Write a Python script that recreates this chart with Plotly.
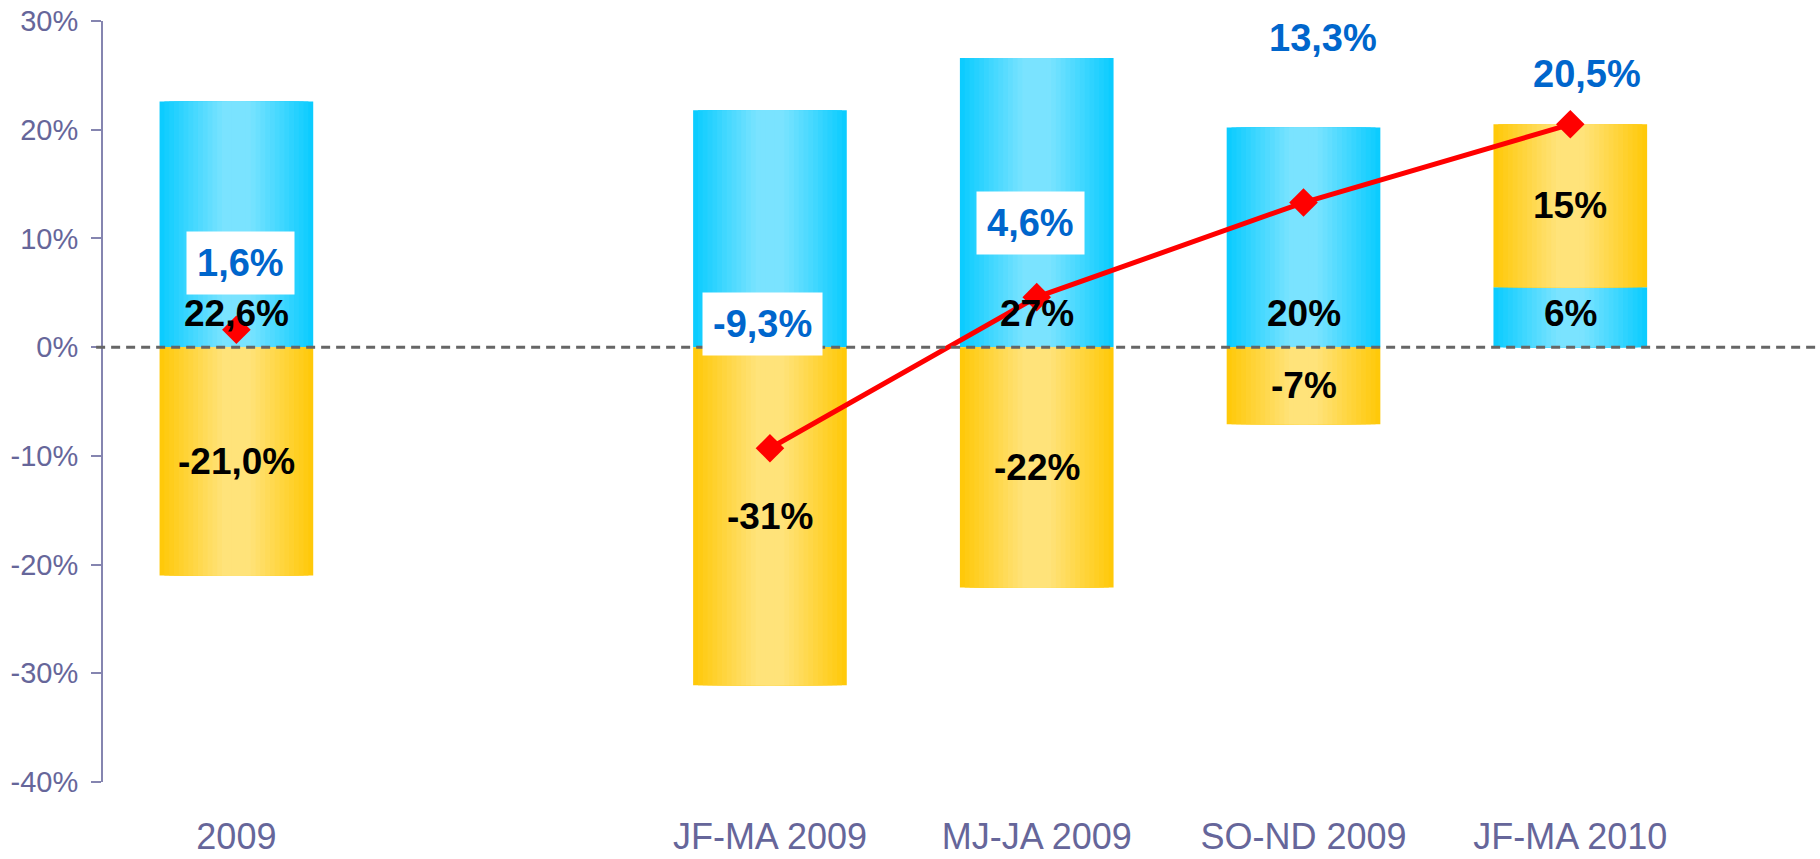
import plotly.graph_objects as go

# ---------------- data ----------------
categories = ["2009", " ", "JF-MA 2009", "MJ-JA 2009", "SO-ND 2009", "JF-MA 2010"]
blue_values = [22.6, None, 21.8, 26.6, 20.2, 5.5]
gold_values = [-21.0, None, -31.1, -22.1, -7.1, 15.0]
blue_labels = ["22,6%", "", "", "27%", "20%", "6%"]
gold_labels = ["-21,0%", "", "-31%", "-22%", "-7%", "15%"]
line_values = [1.6, None, -9.3, 4.6, 13.3, 20.5]
line_labels = ["1,6%", "", "-9,3%", "4,6%", "13,3%", "20,5%"]
y_ticks = [-40, -30, -20, -10, 0, 10, 20, 30]
y_tick_text = ["-40%", "-30%", "-20%", "-10%", "0%", "10%", "20%", "30%"]

# ---------------- style ----------------
FONT = "Arial, Liberation Sans, sans-serif"
AXIS_COL = "#8585B0"
TICK_COL = "#66669A"
BLUE_EDGE, BLUE_MID = (12, 204, 255), (122, 227, 255)
GOLD_EDGE, GOLD_MID = (255, 201, 10), (255, 227, 122)
BAR_W = 0.576
N_LAYERS = 16
line_label_xshift = [4, 0, -7, -6, 19, 17]
line_label_yshift = [67, 0, 124, 74, 165, 50]
line_label_box = [True, False, True, True, False, False]


def mix(a, b, t):
    return "rgb(%d,%d,%d)" % tuple(round(a[i] + (b[i] - a[i]) * t) for i in range(3))


# gold bars stack on top of blue when positive, else hang from zero
gold_base = [(b if (g is not None and g > 0) else 0) if b is not None else None
             for b, g in zip(blue_values, gold_values)]
blue_base = [0 if b is not None else None for b in blue_values]

fig = go.Figure()

for vals, bases, edge, mid in [(blue_values, blue_base, BLUE_EDGE, BLUE_MID),
                               (gold_values, gold_base, GOLD_EDGE, GOLD_MID)]:
    for i in range(N_LAYERS):
        t = i / N_LAYERS
        frac = 1 - t
        g = min(1.0, t / 0.8)
        fig.add_trace(go.Bar(
            x=categories, y=vals, base=bases,
            width=BAR_W * frac,
            marker=dict(color=mix(edge, mid, g), line=dict(width=0)),
            showlegend=False, hoverinfo="skip",
        ))

fig.add_trace(go.Scatter(
    x=categories, y=line_values, mode="lines+markers",
    line=dict(color="#FF0000", width=5),
    marker=dict(symbol="diamond", size=22, color="#FF0000"),
    connectgaps=False, showlegend=False,
))

annotations = []
for i, (b, lab) in enumerate(zip(blue_values, blue_labels)):
    if b is None or not lab:
        continue
    annotations.append(dict(x=i, y=0, text=lab, showarrow=False, yanchor="middle",
                            yshift=34, font=dict(family=FONT, size=37, color="black",
                                                 weight="bold")))
for i, (g, base, lab) in enumerate(zip(gold_values, gold_base, gold_labels)):
    if g is None or not lab:
        continue
    annotations.append(dict(x=i, y=base + g / 2, text=lab, showarrow=False,
                            yanchor="middle",
                            font=dict(family=FONT, size=37, color="black", weight="bold")))
for i, (v, lab, xs, ys, box) in enumerate(zip(line_values, line_labels,
                                              line_label_xshift, line_label_yshift,
                                              line_label_box)):
    if v is None or not lab:
        continue
    annotations.append(dict(x=i, y=v, text=lab, showarrow=False, yanchor="middle",
                            xshift=xs, yshift=ys,
                            bgcolor="white" if box else "rgba(0,0,0,0)",
                            borderpad=10,
                            font=dict(family=FONT, size=38, color="#0066CC", weight="bold")))

fig.update_layout(
    width=1820, height=859,
    margin=dict(l=103, r=0, t=21, b=77),
    paper_bgcolor="white", plot_bgcolor="white",
    barmode="overlay",
    font=dict(family=FONT),
    annotations=annotations,
    shapes=[dict(type="line", xref="paper", yref="y", x0=-0.004, x1=1, y0=0, y1=0,
                 line=dict(color="#666666", width=3, dash="9px,6px"), layer="above")],
    xaxis=dict(
        type="category", range=[-0.5, 5.936], automargin=False,
        showgrid=False, zeroline=False, showline=False, ticks="",
        tickfont=dict(family=FONT, size=36, color=TICK_COL),
        ticklabelstandoff=30,
        ticklabeloverflow="allow",
    ),
    yaxis=dict(
        range=[-40, 30], tickvals=y_ticks, ticktext=y_tick_text, automargin=False,
        showgrid=False, zeroline=False,
        showline=True, linecolor=AXIS_COL, linewidth=2,
        ticks="outside", ticklen=10, tickwidth=2, tickcolor=AXIS_COL,
        tickfont=dict(family=FONT, size=29, color=TICK_COL),
        ticklabelstandoff=7,
        ticklabeloverflow="allow",
    ),
)

fig.write_html("out.html", config={"displayModeBar": False},
               post_script="document.body.style.margin='0px';")
